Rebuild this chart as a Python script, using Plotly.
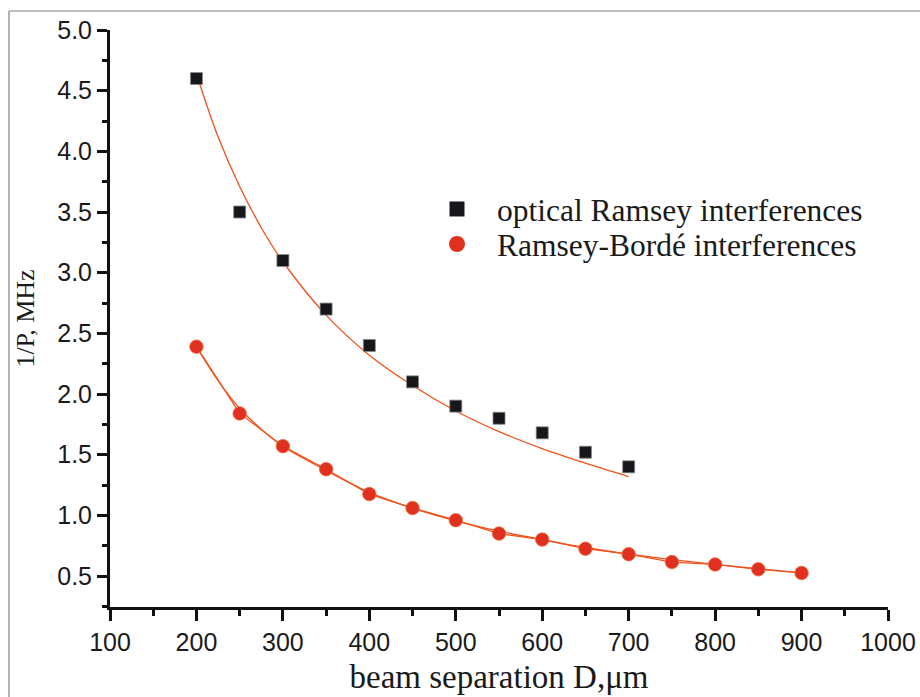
import plotly.graph_objects as go

# data
d_opt = [200, 250, 300, 350, 400, 450, 500, 550, 600, 650, 700]
p_opt = [4.60, 3.50, 3.10, 2.70, 2.40, 2.10, 1.90, 1.80, 1.68, 1.52, 1.40]

d_rb = [200, 250, 300, 350, 400, 450, 500, 550, 600, 650, 700, 750, 800, 850, 900]
p_rb = [2.39, 1.84, 1.57, 1.38, 1.175, 1.06, 0.96, 0.85, 0.80, 0.725, 0.68, 0.615, 0.595, 0.555, 0.525]

# fitted curves
fit_opt_x = [200, 225, 250, 275, 300, 350, 400, 450, 500, 550, 600, 650, 700]
fit_opt_y = [4.64, 4.12, 3.71, 3.37, 3.09, 2.65, 2.32, 2.07, 1.86, 1.69, 1.55, 1.43, 1.32]

fit_rb_x = [200, 225, 250, 275, 300, 350, 400, 450, 500, 550, 600, 650, 700, 750, 800, 850, 900]
fit_rb_y = [2.39, 2.11, 1.88, 1.71, 1.57, 1.37, 1.19, 1.06, 0.955, 0.87, 0.80, 0.735, 0.68, 0.635, 0.595, 0.56, 0.525]

x_ticks = [100, 200, 300, 400, 500, 600, 700, 800, 900, 1000]
y_ticks = [0.5, 1.0, 1.5, 2.0, 2.5, 3.0, 3.5, 4.0, 4.5, 5.0]

LINE = "#f0521c"
SQ_COLOR = "#15171a"
RB_COLOR = "#e0301f"

fig = go.Figure()
fig.add_trace(go.Scatter(x=fit_opt_x, y=fit_opt_y, mode="lines", line=dict(color=LINE, width=1.3, shape="spline"),
                         showlegend=False, hoverinfo="skip"))
fig.add_trace(go.Scatter(x=fit_rb_x, y=fit_rb_y, mode="lines", line=dict(color=LINE, width=1.3, shape="spline"),
                         showlegend=False, hoverinfo="skip"))
fig.add_trace(go.Scatter(x=d_rb, y=p_rb, mode="lines", line=dict(color=LINE, width=1.3),
                         showlegend=False, hoverinfo="skip"))
fig.add_trace(go.Scatter(x=d_opt, y=p_opt, mode="markers", name="optical Ramsey interferences", showlegend=False,
                         marker=dict(symbol="square", size=12, color=SQ_COLOR, line=dict(color="#888888", width=0.8))))
fig.add_trace(go.Scatter(x=d_rb, y=p_rb, mode="markers", name="Ramsey-Bordé interferences", showlegend=False,
                         marker=dict(symbol="circle", size=13.5, color=RB_COLOR, line=dict(color="#f06a3a", width=0.8))))
# legend entries (no data points, larger legend symbols like the reference)
fig.add_trace(go.Scatter(x=[None], y=[None], mode="markers", name="optical Ramsey interferences", legend="legend",
                         marker=dict(symbol="square", size=15, color=SQ_COLOR, line=dict(width=0))))
fig.add_trace(go.Scatter(x=[None], y=[None], mode="markers", name="Ramsey-Bordé interferences", legend="legend2",
                         marker=dict(symbol="circle", size=16, color=RB_COLOR, line=dict(width=0))))

tickfont = dict(family="Liberation Sans, Arial", size=25, color="#1a1a1a")
legfont = dict(family="Liberation Serif, Times New Roman", size=31.5, color="#1a1a1a")

PW, PH = 778, 577
leg_common = dict(xanchor="left", yanchor="middle", bgcolor="rgba(0,0,0,0)", font=legfont,
                  itemsizing="trace", itemwidth=70, borderwidth=0)

fig.update_layout(
    width=920, height=697,
    margin=dict(l=110, r=32, t=30, b=90),
    paper_bgcolor="white", plot_bgcolor="white",
    xaxis=dict(range=[100, 1000], tickvals=x_ticks, showgrid=False, zeroline=False, automargin=False,
               showline=True, linecolor="#111", linewidth=3, ticks="outside", ticklen=11,
               tickwidth=3, tickcolor="#111", tickfont=tickfont,
               minor=dict(ticks="outside", ticklen=6, tickwidth=3, tickcolor="#111", dtick=50, showgrid=False),
               title=dict(text="beam separation D,μm",
                          font=dict(family="Liberation Serif, Times New Roman", size=33, color="#1a1a1a"),
                          standoff=10)),
    yaxis=dict(range=[0.2445, 5.0], tickvals=y_ticks, tickformat=".1f", showgrid=False, zeroline=False,
               automargin=False,
               showline=True, linecolor="#111", linewidth=3, ticks="outside", ticklen=10,
               tickwidth=3, tickcolor="#111", tickfont=tickfont,
               minor=dict(ticks="outside", ticklen=5, tickwidth=3, tickcolor="#111", dtick=0.25, showgrid=False),
               title=dict(text="1/P, MHz", font=dict(family="Liberation Serif, Times New Roman", size=26, color="#1a1a1a"),
                          standoff=16)),
    legend=dict(x=(417 - 110) / PW, y=1 - (209 - 30) / PH, **leg_common),
    legend2=dict(x=(417 - 110) / PW, y=1 - (244 - 30) / PH, **leg_common),
    shapes=[
        dict(type="line", xref="paper", yref="paper", x0=(9 - 110) / PW, x1=(9 - 110) / PW,
             y0=-90 / PH, y1=1 + (30 - 11) / PH, line=dict(color="#808080", width=1.2)),
        dict(type="line", xref="paper", yref="paper", x0=(9 - 110) / PW, x1=(920 - 110) / PW,
             y0=1 + (30 - 11) / PH, y1=1 + (30 - 11) / PH, line=dict(color="#808080", width=1.2)),
    ],
)

fig.write_html("out.html")
